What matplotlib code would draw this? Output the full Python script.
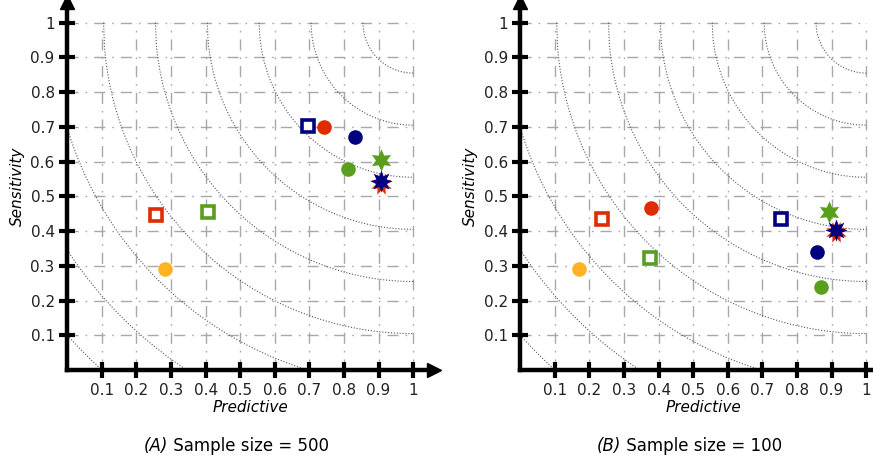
import numpy as np
from matplotlib import pyplot as plt

# values (predictive, sensitivity)
methods = ['sq_navy', 'circ_red', 'circ_navy', 'circ_green', 'star_green',
           'star_red', 'star_navy', 'sq_red', 'sq_green', 'circ_orange']

pred_a = [0.697, 0.742, 0.831, 0.812, 0.907, 0.907, 0.907, 0.257, 0.406, 0.282]
sens_a = [0.704, 0.699, 0.671, 0.579, 0.605, 0.535, 0.543, 0.445, 0.454, 0.290]

pred_b = [0.753, 0.379, 0.858, 0.868, 0.892, 0.912, 0.912, 0.235, 0.374, 0.170]
sens_b = [0.434, 0.467, 0.340, 0.239, 0.455, 0.398, 0.403, 0.434, 0.323, 0.290]

captions = ['(A)', '(B)']
sizes = ['500', '100']
ticks = [0.1, 0.2, 0.3, 0.4, 0.5, 0.6, 0.7, 0.8, 0.9, 1.0]
tick_labels = ['0.1', '0.2', '0.3', '0.4', '0.5', '0.6', '0.7', '0.8', '0.9', '1']

# distance-to-(1,1) isolines
radii = [1.345, 1.195, 1.045, 0.895, 0.745, 0.595, 0.445, 0.295, 0.145]

navy = '#00007f'
red = '#e02a00'
green = '#5a9e1e'
orange = '#ffb224'

styles = {
    'sq_navy': dict(marker='s', ms=8.5, mfc='white', mec=navy, mew=2.6),
    'sq_red': dict(marker='s', ms=8.5, mfc='white', mec=red, mew=2.6),
    'sq_green': dict(marker='s', ms=8.5, mfc='white', mec=green, mew=2.6),
    'circ_red': dict(marker='o', ms=10.5, mfc=red, mec=red, mew=0),
    'circ_navy': dict(marker='o', ms=10.5, mfc=navy, mec=navy, mew=0),
    'circ_green': dict(marker='o', ms=10.5, mfc=green, mec=green, mew=0),
    'circ_orange': dict(marker='o', ms=10.5, mfc=orange, mec=orange, mew=0),
    'star_green': dict(marker=(6, 1, 0), ms=16, mfc=green, mec=green, mew=0),
    'star_red': dict(marker=(8, 1, 22.5), ms=16, mfc=red, mec=red, mew=0),
    'star_navy': dict(marker=(8, 1, 0), ms=16, mfc=navy, mec=navy, mew=0),
}

fig = plt.figure(figsize=(8.73, 4.62), dpi=100)
lefts = [0.077, 0.596]

for i, (px, sy) in enumerate([(pred_a, sens_a), (pred_b, sens_b)]):
    ax = fig.add_axes([lefts[i], 0.199, 0.42, 0.797])
    ax.set_xlim(0, 1.06)
    ax.set_ylim(0, 1.06)

    for t in ticks:
        ax.plot([t, t], [0, 1], color='#a8a8a8', lw=1, ls=(0, (8, 5, 1.2, 5)), zorder=1)
        ax.plot([0, 1], [t, t], color='#a8a8a8', lw=1, ls=(0, (8, 5, 1.2, 5)), zorder=1)

    for r in radii:
        x = np.linspace(max(0.0, 1 - r), 1, 300)
        y = 1 - np.sqrt(np.clip(r ** 2 - (1 - x) ** 2, 0, None))
        keep = y >= 0
        ax.plot(x[keep], y[keep], color='#555555', lw=0.8, ls=(0, (1, 1.6)), zorder=2)

    for m, xv, yv in zip(methods, px, sy):
        ax.plot(xv, yv, ls='none', zorder=5, **styles[m])

    for s in ['top', 'right']:
        ax.spines[s].set_visible(False)
    for s in ['left', 'bottom']:
        ax.spines[s].set_linewidth(3.2)
    ax.plot(1, 0, '>', ms=10, color='k', transform=ax.transAxes, clip_on=False)
    ax.plot(0, 1, '^', ms=10, color='k', transform=ax.transAxes, clip_on=False)

    ax.set_xticks(ticks)
    ax.set_xticklabels(tick_labels)
    ax.set_yticks(ticks)
    ax.set_yticklabels(tick_labels)
    ax.tick_params(direction='inout', length=12, width=3, labelsize=11,
                   labelcolor='#222222', pad=3)

    ax.set_xlabel('Predictive', style='italic', fontsize=11, labelpad=2)
    ax.set_ylabel('Sensitivity', style='italic', fontsize=11, labelpad=4)

    cx = lefts[i] + 0.115
    fig.text(cx, 0.035, captions[i], style='italic', ha='right', va='center', fontsize=12)
    fig.text(cx, 0.035, ' Sample size = ' + sizes[i], ha='left', va='center', fontsize=12)

fig.savefig('out.png', dpi=100)
